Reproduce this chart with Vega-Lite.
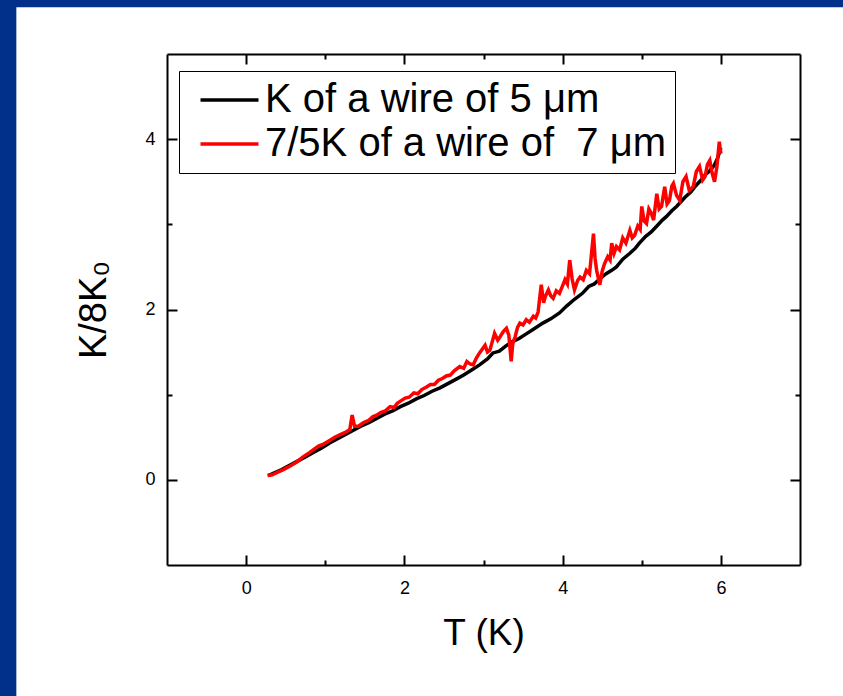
{
  "$schema": "https://vega.github.io/schema/vega-lite/v6.json",
  "width": 633,
  "height": 511,
  "autosize": {"type": "none"},
  "padding": {"left": 167, "top": 54, "right": 43, "bottom": 131},
  "background": "#FFFFFF",
  "config": {
    "view": {"stroke": null},
    "font": "Liberation Sans",
    "axis": {"grid": false, "domainColor": "black", "tickColor": "black", "labelColor": "black", "titleColor": "black"}
  },
  "datasets": {
    "curves": [
      {"s":"5um","T":0.28,"K":0.05},{"s":"5um","T":0.35,"K":0.08},{"s":"5um","T":0.45,"K":0.12},{"s":"5um","T":0.55,"K":0.17},{"s":"5um","T":0.65,"K":0.22},{"s":"5um","T":0.75,"K":0.27},{"s":"5um","T":0.85,"K":0.32},{"s":"5um","T":0.95,"K":0.37},{"s":"5um","T":1.05,"K":0.43},{"s":"5um","T":1.15,"K":0.48},{"s":"5um","T":1.25,"K":0.53},{"s":"5um","T":1.35,"K":0.58},{"s":"5um","T":1.45,"K":0.63},{"s":"5um","T":1.55,"K":0.67},{"s":"5um","T":1.65,"K":0.72},{"s":"5um","T":1.75,"K":0.77},{"s":"5um","T":1.85,"K":0.81},{"s":"5um","T":1.95,"K":0.86},{"s":"5um","T":2.05,"K":0.90},{"s":"5um","T":2.15,"K":0.95},{"s":"5um","T":2.25,"K":0.99},{"s":"5um","T":2.35,"K":1.04},{"s":"5um","T":2.45,"K":1.08},{"s":"5um","T":2.55,"K":1.13},{"s":"5um","T":2.65,"K":1.18},{"s":"5um","T":2.75,"K":1.23},{"s":"5um","T":2.85,"K":1.29},{"s":"5um","T":2.95,"K":1.35},{"s":"5um","T":3.05,"K":1.42},{"s":"5um","T":3.12,"K":1.49},{"s":"5um","T":3.20,"K":1.51},{"s":"5um","T":3.28,"K":1.57},{"s":"5um","T":3.36,"K":1.62},{"s":"5um","T":3.45,"K":1.66},{"s":"5um","T":3.55,"K":1.72},{"s":"5um","T":3.65,"K":1.78},{"s":"5um","T":3.75,"K":1.84},{"s":"5um","T":3.85,"K":1.89},{"s":"5um","T":3.96,"K":1.96},{"s":"5um","T":4.05,"K":2.04},{"s":"5um","T":4.15,"K":2.12},{"s":"5um","T":4.25,"K":2.19},{"s":"5um","T":4.33,"K":2.27},{"s":"5um","T":4.40,"K":2.30},{"s":"5um","T":4.48,"K":2.37},{"s":"5um","T":4.55,"K":2.42},{"s":"5um","T":4.62,"K":2.46},{"s":"5um","T":4.68,"K":2.50},{"s":"5um","T":4.76,"K":2.59},{"s":"5um","T":4.85,"K":2.66},{"s":"5um","T":4.92,"K":2.72},{"s":"5um","T":4.97,"K":2.78},{"s":"5um","T":5.05,"K":2.86},{"s":"5um","T":5.12,"K":2.91},{"s":"5um","T":5.20,"K":2.99},{"s":"5um","T":5.26,"K":3.05},{"s":"5um","T":5.31,"K":3.09},{"s":"5um","T":5.38,"K":3.16},{"s":"5um","T":5.44,"K":3.21},{"s":"5um","T":5.48,"K":3.25},{"s":"5um","T":5.55,"K":3.32},{"s":"5um","T":5.62,"K":3.38},{"s":"5um","T":5.68,"K":3.45},{"s":"5um","T":5.75,"K":3.52},{"s":"5um","T":5.80,"K":3.58},{"s":"5um","T":5.86,"K":3.63},{"s":"5um","T":5.92,"K":3.70},{"s":"5um","T":5.96,"K":3.78},{"s":"5um","T":6.00,"K":3.90},
      {"s":"7um","T":0.27,"K":0.05},{"s":"7um","T":0.33,"K":0.06},{"s":"7um","T":0.40,"K":0.09},{"s":"7um","T":0.47,"K":0.12},{"s":"7um","T":0.55,"K":0.16},{"s":"7um","T":0.64,"K":0.21},{"s":"7um","T":0.72,"K":0.27},{"s":"7um","T":0.80,"K":0.32},{"s":"7um","T":0.86,"K":0.36},{"s":"7um","T":0.92,"K":0.40},{"s":"7um","T":0.98,"K":0.42},{"s":"7um","T":1.05,"K":0.46},{"s":"7um","T":1.12,"K":0.50},{"s":"7um","T":1.19,"K":0.53},{"s":"7um","T":1.26,"K":0.56},{"s":"7um","T":1.31,"K":0.59},{"s":"7um","T":1.34,"K":0.76},{"s":"7um","T":1.37,"K":0.63},{"s":"7um","T":1.42,"K":0.63},{"s":"7um","T":1.48,"K":0.67},{"s":"7um","T":1.55,"K":0.70},{"s":"7um","T":1.60,"K":0.74},{"s":"7um","T":1.65,"K":0.76},{"s":"7um","T":1.70,"K":0.79},{"s":"7um","T":1.76,"K":0.81},{"s":"7um","T":1.82,"K":0.86},{"s":"7um","T":1.87,"K":0.85},{"s":"7um","T":1.91,"K":0.90},{"s":"7um","T":1.96,"K":0.93},{"s":"7um","T":2.01,"K":0.96},{"s":"7um","T":2.06,"K":0.97},{"s":"7um","T":2.12,"K":1.02},{"s":"7um","T":2.17,"K":1.01},{"s":"7um","T":2.22,"K":1.06},{"s":"7um","T":2.28,"K":1.09},{"s":"7um","T":2.33,"K":1.12},{"s":"7um","T":2.38,"K":1.12},{"s":"7um","T":2.43,"K":1.17},{"s":"7um","T":2.48,"K":1.19},{"s":"7um","T":2.53,"K":1.22},{"s":"7um","T":2.58,"K":1.23},{"s":"7um","T":2.63,"K":1.28},{"s":"7um","T":2.70,"K":1.33},{"s":"7um","T":2.75,"K":1.31},{"s":"7um","T":2.79,"K":1.39},{"s":"7um","T":2.83,"K":1.36},{"s":"7um","T":2.87,"K":1.35},{"s":"7um","T":2.91,"K":1.43},{"s":"7um","T":2.95,"K":1.49},{"s":"7um","T":3.02,"K":1.58},{"s":"7um","T":3.05,"K":1.50},{"s":"7um","T":3.08,"K":1.52},{"s":"7um","T":3.11,"K":1.62},{"s":"7um","T":3.14,"K":1.72},{"s":"7um","T":3.18,"K":1.64},{"s":"7um","T":3.21,"K":1.68},{"s":"7um","T":3.25,"K":1.74},{"s":"7um","T":3.29,"K":1.78},{"s":"7um","T":3.32,"K":1.70},{"s":"7um","T":3.35,"K":1.39},{"s":"7um","T":3.37,"K":1.60},{"s":"7um","T":3.40,"K":1.68},{"s":"7um","T":3.43,"K":1.79},{"s":"7um","T":3.46,"K":1.84},{"s":"7um","T":3.50,"K":1.82},{"s":"7um","T":3.54,"K":1.88},{"s":"7um","T":3.58,"K":1.85},{"s":"7um","T":3.63,"K":1.92},{"s":"7um","T":3.66,"K":1.90},{"s":"7um","T":3.69,"K":1.97},{"s":"7um","T":3.73,"K":2.29},{"s":"7um","T":3.76,"K":2.08},{"s":"7um","T":3.78,"K":2.15},{"s":"7um","T":3.82,"K":2.23},{"s":"7um","T":3.85,"K":2.16},{"s":"7um","T":3.88,"K":2.13},{"s":"7um","T":3.92,"K":2.22},{"s":"7um","T":3.96,"K":2.19},{"s":"7um","T":4.00,"K":2.28},{"s":"7um","T":4.03,"K":2.35},{"s":"7um","T":4.06,"K":2.30},{"s":"7um","T":4.09,"K":2.58},{"s":"7um","T":4.12,"K":2.36},{"s":"7um","T":4.15,"K":2.23},{"s":"7um","T":4.19,"K":2.34},{"s":"7um","T":4.22,"K":2.38},{"s":"7um","T":4.26,"K":2.35},{"s":"7um","T":4.30,"K":2.46},{"s":"7um","T":4.34,"K":2.42},{"s":"7um","T":4.39,"K":2.89},{"s":"7um","T":4.41,"K":2.60},{"s":"7um","T":4.43,"K":2.46},{"s":"7um","T":4.47,"K":2.29},{"s":"7um","T":4.50,"K":2.45},{"s":"7um","T":4.53,"K":2.54},{"s":"7um","T":4.57,"K":2.62},{"s":"7um","T":4.60,"K":2.58},{"s":"7um","T":4.62,"K":2.78},{"s":"7um","T":4.65,"K":2.66},{"s":"7um","T":4.68,"K":2.74},{"s":"7um","T":4.72,"K":2.70},{"s":"7um","T":4.76,"K":2.84},{"s":"7um","T":4.80,"K":2.78},{"s":"7um","T":4.85,"K":2.93},{"s":"7um","T":4.88,"K":2.84},{"s":"7um","T":4.91,"K":2.87},{"s":"7um","T":4.95,"K":2.98},{"s":"7um","T":4.98,"K":2.94},{"s":"7um","T":5.00,"K":3.21},{"s":"7um","T":5.03,"K":3.04},{"s":"7um","T":5.06,"K":3.01},{"s":"7um","T":5.09,"K":3.18},{"s":"7um","T":5.12,"K":3.13},{"s":"7um","T":5.15,"K":3.05},{"s":"7um","T":5.19,"K":3.36},{"s":"7um","T":5.22,"K":3.18},{"s":"7um","T":5.25,"K":3.21},{"s":"7um","T":5.29,"K":3.44},{"s":"7um","T":5.32,"K":3.24},{"s":"7um","T":5.35,"K":3.28},{"s":"7um","T":5.38,"K":3.45},{"s":"7um","T":5.40,"K":3.48},{"s":"7um","T":5.44,"K":3.34},{"s":"7um","T":5.48,"K":3.28},{"s":"7um","T":5.52,"K":3.50},{"s":"7um","T":5.56,"K":3.56},{"s":"7um","T":5.60,"K":3.40},{"s":"7um","T":5.65,"K":3.44},{"s":"7um","T":5.69,"K":3.62},{"s":"7um","T":5.73,"K":3.68},{"s":"7um","T":5.77,"K":3.52},{"s":"7um","T":5.80,"K":3.56},{"s":"7um","T":5.83,"K":3.70},{"s":"7um","T":5.86,"K":3.75},{"s":"7um","T":5.89,"K":3.60},{"s":"7um","T":5.92,"K":3.50},{"s":"7um","T":5.95,"K":3.68},{"s":"7um","T":5.98,"K":3.97},{"s":"7um","T":6.00,"K":3.83}
    ]
  },
  "layer": [
    {
      "data": {"values": [{}]},
      "mark": {"type": "rect", "fill": "#00308A", "clip": false},
      "encoding": {
        "x": {"datum": -3.6, "type": "quantitative", "scale": {"domain": [-1, 7], "nice": false, "zero": false}, "axis": null},
        "x2": {"datum": 8.5},
        "y": {"datum": 5.55, "type": "quantitative", "scale": {"domain": [-1, 5], "nice": false, "zero": false}, "axis": null},
        "y2": {"datum": 6.2}
      }
    },
    {
      "data": {"values": [{}]},
      "mark": {"type": "rect", "fill": "#00308A", "clip": false},
      "encoding": {
        "x": {"datum": -3.6, "type": "quantitative", "scale": {"domain": [-1, 7], "nice": false, "zero": false}, "axis": null},
        "x2": {"datum": -2.904},
        "y": {"datum": 6.2, "type": "quantitative", "scale": {"domain": [-1, 5], "nice": false, "zero": false}, "axis": null},
        "y2": {"datum": -3.0}
      }
    },
    {
      "data": {"name": "curves"},
      "mark": {"type": "line", "strokeWidth": 3.5},
      "encoding": {
        "x": {"field": "T", "type": "quantitative", "scale": {"domain": [-1, 7], "nice": false, "zero": false},
          "axis": {"zindex": 2, "orient": "bottom", "values": [0, 2, 4, 6], "ticks": false, "domain": true, "domainWidth": 2, "labelFontSize": 18, "labelPadding": 14, "title": "T (K)", "titleFontSize": 37, "titleFontWeight": "normal", "titlePadding": 18}},
        "y": {"field": "K", "type": "quantitative", "scale": {"domain": [-1, 5], "nice": false, "zero": false},
          "axis": {"zindex": 2, "orient": "left", "values": [0, 2, 4], "ticks": false, "domain": true, "domainWidth": 2, "labelFontSize": 18, "labelPadding": 12, "title": "K/8K₀", "titleFontSize": 38, "titleFontWeight": "normal", "titlePadding": 31}},
        "color": {"field": "s", "type": "nominal", "scale": {"domain": ["5um", "7um"], "range": ["#000000", "#FF0000"]},
          "legend": {"zindex": 3, "orient": "none", "legendX": 12, "legendY": 17, "title": null, "symbolType": "M-2,0H2", "symbolSize": 841, "symbolStrokeWidth": 3.5, "labelFontSize": 40, "labelColor": "black", "labelLimit": 0, "labelOffset": 15.5, "rowPadding": 4, "padding": 9, "strokeColor": "black", "fillColor": "white", "symbolOffset": 21.5,
            "labelExpr": "datum.label == '5um' ? 'K of a wire of 5 μm' : '7/5K of a wire of\u00a0 7 μm'"}}
      }
    },
    {
      "mark": {"type": "point", "opacity": 0},
      "encoding": {
        "x": {"datum": 0, "type": "quantitative", "scale": {"domain": [-1, 7], "nice": false, "zero": false},
          "axis": {"zindex": 2, "orient": "bottom", "values": [0, 2, 4, 6], "labels": false, "domain": false, "title": null, "tickSize": -10, "tickWidth": 2}},
        "y": {"datum": 0, "type": "quantitative", "scale": {"domain": [-1, 5], "nice": false, "zero": false},
          "axis": {"zindex": 2, "orient": "left", "values": [0, 2, 4], "labels": false, "domain": false, "title": null, "tickSize": -10, "tickWidth": 2}}
      }
    },
    {
      "mark": {"type": "point", "opacity": 0},
      "encoding": {
        "x": {"datum": 0, "type": "quantitative", "scale": {"domain": [-1, 7], "nice": false, "zero": false},
          "axis": {"zindex": 2, "orient": "bottom", "values": [1, 3, 5], "labels": false, "domain": false, "title": null, "tickSize": -5, "tickWidth": 2}},
        "y": {"datum": 0, "type": "quantitative", "scale": {"domain": [-1, 5], "nice": false, "zero": false},
          "axis": {"zindex": 2, "orient": "left", "values": [1, 3], "labels": false, "domain": false, "title": null, "tickSize": -5, "tickWidth": 2}}
      }
    },
    {
      "mark": {"type": "point", "opacity": 0},
      "encoding": {
        "x": {"datum": 0, "type": "quantitative", "scale": {"domain": [-1, 7], "nice": false, "zero": false},
          "axis": {"zindex": 2, "orient": "top", "values": [0, 2, 4, 6], "labels": false, "domain": true, "domainWidth": 2, "title": null, "tickSize": -10, "tickWidth": 2}},
        "y": {"datum": 0, "type": "quantitative", "scale": {"domain": [-1, 5], "nice": false, "zero": false},
          "axis": {"zindex": 2, "orient": "right", "values": [0, 2, 4], "labels": false, "domain": true, "domainWidth": 2, "title": null, "tickSize": -10, "tickWidth": 2}}
      }
    },
    {
      "mark": {"type": "point", "opacity": 0},
      "encoding": {
        "x": {"datum": 0, "type": "quantitative", "scale": {"domain": [-1, 7], "nice": false, "zero": false},
          "axis": {"zindex": 2, "orient": "top", "values": [1, 3, 5], "labels": false, "domain": false, "title": null, "tickSize": -5, "tickWidth": 2}},
        "y": {"datum": 0, "type": "quantitative", "scale": {"domain": [-1, 5], "nice": false, "zero": false},
          "axis": {"zindex": 2, "orient": "right", "values": [1, 3], "labels": false, "domain": false, "title": null, "tickSize": -5, "tickWidth": 2}}
      }
    }
  ],
  "resolve": {"axis": {"x": "independent", "y": "independent"}}
}
